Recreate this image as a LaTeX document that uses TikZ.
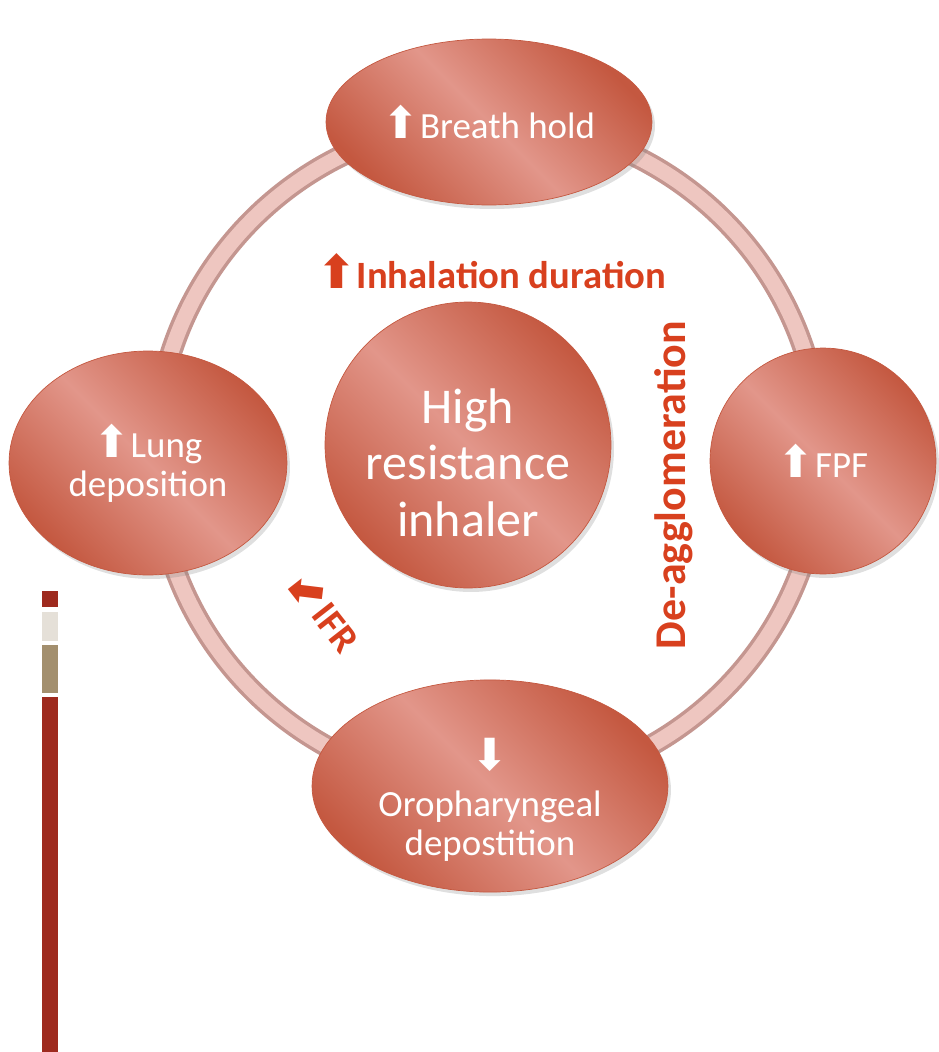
\documentclass[tikz,border=0pt]{standalone}
\usepackage{fontspec}
\setmainfont{Carlito}
\newfontfamily\arrowfont{DejaVu Sans}
\usetikzlibrary{shapes.geometric,shadows}

\definecolor{ovaldark}{RGB}{196,88,64}
\definecolor{ovallight}{RGB}{226,150,138}
\definecolor{ringlight}{RGB}{238,198,192}
\definecolor{ringdark}{RGB}{196,150,144}
\definecolor{cuered}{RGB}{216,64,30}
\definecolor{barred}{RGB}{158,42,30}
\definecolor{bargray}{RGB}{229,224,216}
\definecolor{bartan}{RGB}{163,143,110}

\newcommand{\upmark}{\scalebox{1.2}{\arrowfont ⬆}}
\newcommand{\downmark}{\scalebox{1.2}{\arrowfont ⬇}}
\newcommand{\slantmark}{\scalebox{1.2}{\arrowfont ⬋}}

\begin{document}
\begin{tikzpicture}[x=0.02cm, y=-0.02cm,
    ovalnode/.style={ellipse, inner sep=0pt, draw=ovaldark, thin,
        top color=ovaldark, bottom color=ovaldark, middle color=ovallight, shading angle=-45,
        drop shadow={shadow xshift=0.6mm, shadow yshift=-0.8mm, opacity=0.25},
        text=white, align=center, font=\fontsize{21pt}{22pt}\selectfont},
    hubnode/.style={ovalnode, circle, font=\fontsize{28.5pt}{32pt}\selectfont},
    cuelabel/.style={text=cuered, font=\fontsize{22pt}{24pt}\selectfont\bfseries, inner sep=1pt}]

    \useasboundingbox (0,0) rectangle (938,1052);

    % ring behind the ovals
    \draw[ringdark, line width=0.44cm] (488,455) circle [radius=333];
    \draw[ringlight, line width=0.3cm] (488,455) circle [radius=333];

    % ovals
    \node[ovalnode, minimum width=6.52cm, minimum height=3.32cm] (hold) at (489,122) {\upmark Breath hold};
    \node[ovalnode, minimum width=5.56cm, minimum height=4.48cm] (lung) at (148,463) {\upmark Lung\\deposition};
    \node[ovalnode, minimum width=4.52cm, minimum height=4.52cm] (fpf) at (823,461) {\upmark FPF};
    \node[ovalnode, minimum width=7.12cm, minimum height=3.76cm] (oro) at (490,786)
        {\rule{0pt}{34pt}\downmark\\[4pt]Oropharyngeal\\depostition};
    \node[hubnode, minimum size=5.72cm] (hub) at (468,445) {\rule{0pt}{40pt}High\\resistance\\inhaler};

    % red cues
    \node[cuelabel] (dur) at (492,271) {\upmark Inhalation duration};
    \node[cuelabel, rotate=90, font=\fontsize{25pt}{27pt}\selectfont\bfseries] (deagg) at (674,485) {De-agglomeration};
    \node[cuelabel, rotate=-52] (ifr) at (324,612) {\slantmark IFR};

    % side bar
    \fill[barred] (42,591) rectangle (58,607);
    \fill[bargray] (42,612) rectangle (58,641);
    \fill[bartan] (42,645) rectangle (58,693);
    \fill[barred] (42,697) rectangle (58,1052);

\end{tikzpicture}
\end{document}
